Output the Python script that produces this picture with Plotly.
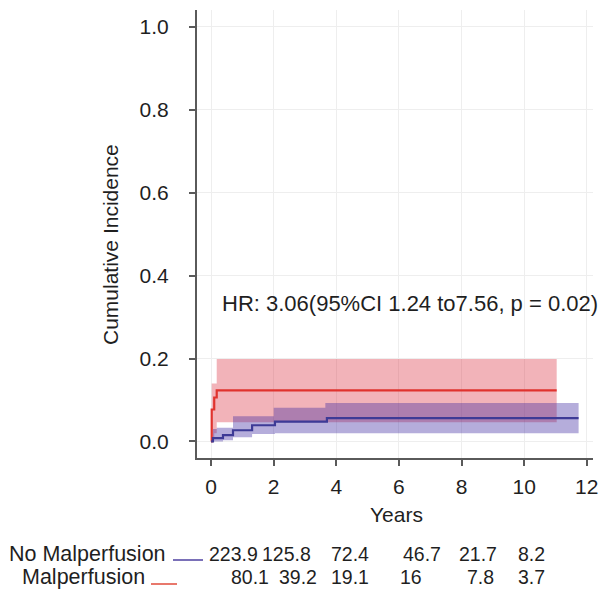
import plotly.graph_objects as go

# ---------------- data ----------------
# No Malperfusion (blue) cumulative incidence step function
no_mal_t = [0, 0.06, 0.38, 0.70, 1.31, 2.04, 3.70]
no_mal_y = [0, 0.008, 0.015, 0.027, 0.039, 0.048, 0.056]
no_mal_end = 11.74
no_mal_up_t = [0, 0.06, 0.18, 0.70, 2.00, 3.65]
no_mal_up = [0, 0.030, 0.033, 0.061, 0.081, 0.093]
no_mal_lo_t = [0, 0.38, 0.70, 1.31, 2.04]
no_mal_lo = [0, 0.003, 0.010, 0.018, 0.020]

# Malperfusion (red)
mal_t = [0, 0.02, 0.10, 0.18]
mal_y = [0, 0.077, 0.106, 0.123]
mal_end = 11.04
mal_up_t = [0, 0.02, 0.18]
mal_up = [0, 0.14, 0.199]
mal_lo_t = [0, 0.02, 0.10, 0.18]
mal_lo = [0, 0.010, 0.020, 0.046]

x_ticks = [0, 2, 4, 6, 8, 10, 12]
y_ticks = [0.0, 0.2, 0.4, 0.6, 0.8, 1.0]
y_tick_text = ["0.0", "0.2", "0.4", "0.6", "0.8", "1.0"]

group_names = ["No Malperfusion", "Malperfusion"]
risk_no_mal = ["223.9", "125.8", "72.4", "46.7", "21.7", "8.2"]
risk_mal = ["80.1", "39.2", "19.1", "16", "7.8", "3.7"]

hr_text = "HR: 3.06(95%CI 1.24 to7.56, p = 0.02)"

# ---------------- styles / layout constants ----------------
FONT = "Liberation Sans, Arial, sans-serif"
TXT = "#1f1f1f"
AX = "#5a5a5a"
W, H = 604, 589
L, R, T, B = 197, 11, 10, 131
PW, PH = W - L - R, H - T - B


def px_x(p):
    return (p - L) / PW


def px_y(p):
    return (H - B - p) / PH


def steps(t, y, t_end):
    xs, ys = [], []
    for i in range(len(t)):
        if i > 0:
            xs.append(t[i]); ys.append(y[i - 1])
        xs.append(t[i]); ys.append(y[i])
    xs.append(t_end); ys.append(y[-1])
    return xs, ys


def band(ut, uy, lt, ly, t_end):
    xu, yu = steps(ut, uy, t_end)
    xl, yl = steps(lt, ly, t_end)
    return xu + xl[::-1], yu + yl[::-1]


fig = go.Figure()

bx, by = band(mal_up_t, mal_up, mal_lo_t, mal_lo, mal_end)
fig.add_trace(go.Scatter(x=bx, y=by, fill="toself", mode="lines",
                         line=dict(width=0), fillcolor="rgba(218,45,60,0.36)",
                         hoverinfo="skip", showlegend=False))
bx, by = band(no_mal_up_t, no_mal_up, no_mal_lo_t, no_mal_lo, no_mal_end)
fig.add_trace(go.Scatter(x=bx, y=by, fill="toself", mode="lines",
                         line=dict(width=0), fillcolor="rgba(60,40,160,0.38)",
                         hoverinfo="skip", showlegend=False))

fig.add_trace(go.Scatter(x=mal_t + [mal_end], y=mal_y + [mal_y[-1]],
                         mode="lines", line=dict(color="#e0332e", width=2.2, shape="hv"),
                         showlegend=False))
fig.add_trace(go.Scatter(x=no_mal_t + [no_mal_end], y=no_mal_y + [no_mal_y[-1]],
                         mode="lines", line=dict(color="#3d3a96", width=2.2, shape="hv"),
                         showlegend=False))

axis_common = dict(showline=True, linecolor=AX, linewidth=2, ticks="outside",
                   ticklen=6, tickwidth=2, tickcolor=AX, showgrid=True,
                   gridcolor="#eeeeee", gridwidth=1, zeroline=False, automargin=False,
                   tickfont=dict(family=FONT, size=21, color=TXT))

fig.update_layout(
    width=W, height=H,
    margin=dict(l=L, r=R, t=T, b=B, pad=0, autoexpand=False),
    paper_bgcolor="white", plot_bgcolor="white",
    xaxis=dict(range=[-0.45, 12.2], tickvals=x_ticks, ticklabelstandoff=3, **axis_common),
    yaxis=dict(range=[-0.04, 1.041], tickvals=y_ticks, ticktext=y_tick_text,
               ticklabelstandoff=16, **axis_common),
    showlegend=False,
)

ann = []
ann.append(dict(text=hr_text, xref="x", yref="y", x=0.29, y=0.334, xanchor="left",
                yanchor="middle", showarrow=False, font=dict(family=FONT, size=22, color=TXT)))
ann.append(dict(text="Cumulative Incidence", xref="paper", yref="paper", x=px_x(110), y=px_y(245),
                textangle=-90, showarrow=False, xanchor="center", yanchor="middle",
                font=dict(family=FONT, size=21, color=TXT)))
ann.append(dict(text="Years", xref="paper", yref="paper", x=px_x(396), y=px_y(514),
                showarrow=False, xanchor="center", yanchor="middle",
                font=dict(family=FONT, size=21, color=TXT)))

# risk table
name_right = [168, 147]
row_y = [554, 577]
col_center = [[233, 286, 349.5, 421.5, 477.5, 531.5], [250, 297.5, 349.5, 411, 480, 531.5]]
rows = [risk_no_mal, risk_mal]
for r in range(2):
    ann.append(dict(text=group_names[r], xref="paper", yref="paper", x=px_x(name_right[r]),
                    y=px_y(row_y[r]), xanchor="right", yanchor="middle", showarrow=False,
                    font=dict(family=FONT, size=21.5, color=TXT)))
    for c, v in enumerate(rows[r]):
        ann.append(dict(text=v, xref="paper", yref="paper", x=px_x(col_center[r][c]),
                        y=px_y(row_y[r]), xanchor="center", yanchor="middle", showarrow=False,
                        font=dict(family=FONT, size=19.5, color=TXT)))
fig.update_layout(annotations=ann)

# legend key lines in the table
fig.add_shape(type="line", xref="paper", yref="paper", x0=px_x(173), x1=px_x(203),
              y0=px_y(560), y1=px_y(560), line=dict(color="#7a70b8", width=2))
fig.add_shape(type="line", xref="paper", yref="paper", x0=px_x(151), x1=px_x(177),
              y0=px_y(584), y1=px_y(584), line=dict(color="#e8786c", width=2))

fig.write_html("out.html", config={"displayModeBar": False},
               post_script="document.body.style.margin='0';document.body.style.overflow='hidden';")
